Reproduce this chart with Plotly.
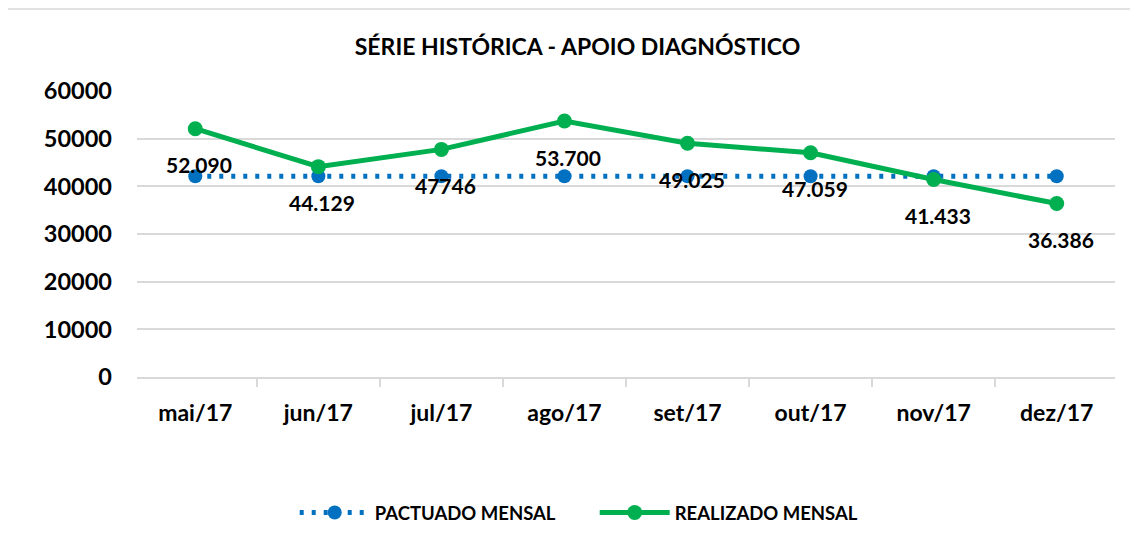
import plotly.graph_objects as go

categories = ["mai/17", "jun/17", "jul/17", "ago/17", "set/17", "out/17", "nov/17", "dez/17"]
pactuado = [42100, 42100, 42100, 42100, 42100, 42100, 42100, 42100]
realizado = [52090, 44129, 47746, 53700, 49025, 47059, 41433, 36386]
realizado_labels = ["52.090", "44.129", "47746", "53.700", "49.025", "47.059", "41.433", "36.386"]
y_ticks = [0, 10000, 20000, 30000, 40000, 50000, 60000]

FONT = "Lato"
BLUE = "#0070C0"
GREEN = "#00B050"
GRID = "#D9D9D9"

fig = go.Figure()
fig.add_trace(go.Scatter(
    x=categories, y=pactuado, name="<b>PACTUADO MENSAL</b>", mode="lines+markers",
    line=dict(color=BLUE, width=5, dash="4px,8px"),
    marker=dict(color=BLUE, size=14, symbol="circle"),
))
fig.add_trace(go.Scatter(
    x=categories, y=realizado, name="<b>REALIZADO MENSAL</b>", mode="lines+markers",
    line=dict(color=GREEN, width=5),
    marker=dict(color=GREEN, size=15, symbol="circle"),
))

for c, v, t in zip(categories, realizado, realizado_labels):
    fig.add_annotation(x=c, y=v, text="<b>%s</b>" % t, showarrow=False,
                       yshift=-36, xshift=4,
                       font=dict(family=FONT, size=21, color="#000000"))

fig.add_shape(type="rect", xref="paper", yref="paper",
              x0=-0.1329, x1=1.03, y0=-0.6, y1=1.2867,
              line=dict(color=GRID, width=1.5), fillcolor="rgba(0,0,0,0)", layer="below")

fig.update_layout(
    width=1130, height=536,
    margin=dict(l=129, r=23, t=83, b=167),
    paper_bgcolor="white", plot_bgcolor="white",
    title=dict(text="<b>SÉRIE HISTÓRICA - APOIO DIAGNÓSTICO</b>", x=0.504, xanchor="center",
               y=1 - 39 / 536, yanchor="middle",
               font=dict(family=FONT, size=23, color="#000000")),
    showlegend=True,
    legend=dict(orientation="h", x=0.468, xanchor="center", y=-0.4755, yanchor="middle",
                font=dict(family=FONT, size=18.5, color="#000000"),
                itemwidth=70, entrywidth=215, entrywidthmode="pixels"),
    font=dict(family=FONT, color="#000000"),
)
fig.update_xaxes(
    type="category", showgrid=False, showline=True, linecolor=GRID, linewidth=1.5,
    ticks="outside", tickson="boundaries", ticklen=8, tickcolor=GRID, tickwidth=1.5,
    tickfont=dict(family=FONT, size=23, color="#000000"), ticklabelstandoff=15,
    tickprefix="<b>", ticksuffix="</b>",
)
fig.update_yaxes(
    range=[0, 60000], tickvals=y_ticks, ticktext=["<b>%d</b>" % v for v in y_ticks],
    showgrid=True, gridcolor=GRID, gridwidth=1.5, zeroline=False, showline=False,
    tickfont=dict(family=FONT, size=23.5, color="#000000"), ticklabelstandoff=24,
)

fig.write_html("out.html")
